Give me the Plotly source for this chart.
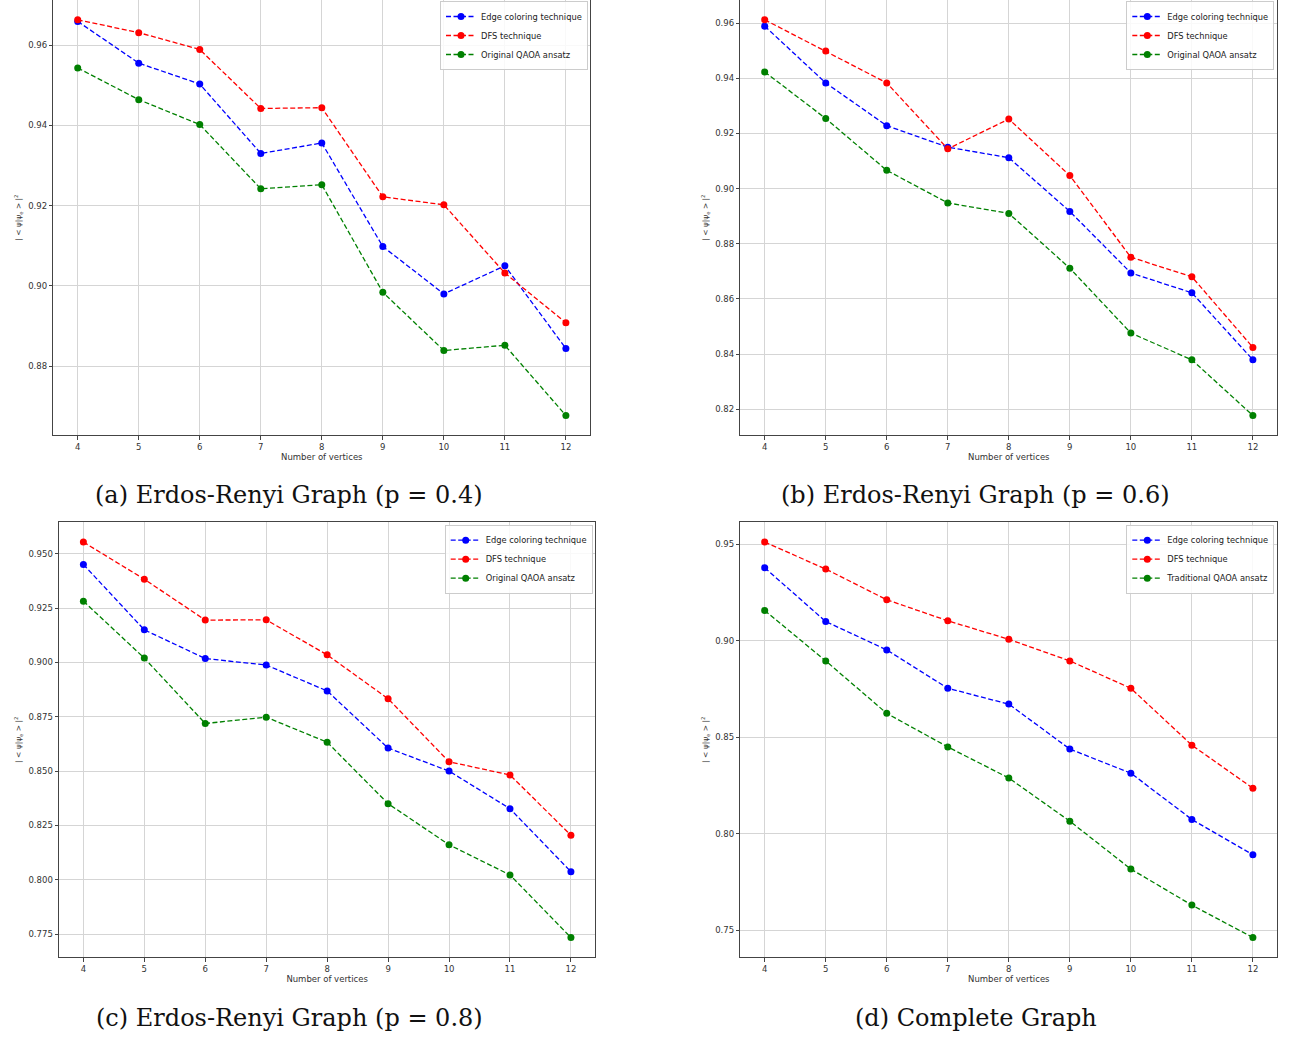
import plotly.graph_objects as go

vertices = [4, 5, 6, 7, 8, 9, 10, 11, 12]

# (a) Erdos-Renyi p = 0.4
a_edge = [0.9659, 0.9555, 0.9503, 0.9330, 0.9356, 0.9098, 0.8980, 0.9050, 0.8844]
a_dfs = [0.9663, 0.9631, 0.9589, 0.9442, 0.9444, 0.9222, 0.9202, 0.9032, 0.8908]
a_orig = [0.9543, 0.9464, 0.9402, 0.9242, 0.9252, 0.8984, 0.8839, 0.8852, 0.8677]

# (b) Erdos-Renyi p = 0.6
b_edge = [0.9589, 0.9383, 0.9228, 0.9150, 0.9112, 0.8917, 0.8694, 0.8622, 0.8379]
b_dfs = [0.9612, 0.9499, 0.9383, 0.9144, 0.9252, 0.9047, 0.8751, 0.8680, 0.8424]
b_orig = [0.9423, 0.9254, 0.9066, 0.8948, 0.8910, 0.8711, 0.8476, 0.8379, 0.8177]

# (c) Erdos-Renyi p = 0.8
c_edge = [0.9451, 0.9150, 0.9018, 0.8988, 0.8869, 0.8606, 0.8500, 0.8327, 0.8037]
c_dfs = [0.9554, 0.9383, 0.9195, 0.9196, 0.9035, 0.8833, 0.8543, 0.8482, 0.8205]
c_orig = [0.9282, 0.9020, 0.8719, 0.8748, 0.8633, 0.8350, 0.8161, 0.8022, 0.7734]

# (d) Complete graph
d_edge = [0.9379, 0.9100, 0.8953, 0.8754, 0.8672, 0.8439, 0.8314, 0.8074, 0.7891]
d_dfs = [0.9512, 0.9372, 0.9213, 0.9104, 0.9008, 0.8896, 0.8754, 0.8459, 0.8236]
d_trad = [0.9157, 0.8896, 0.8624, 0.8450, 0.8289, 0.8065, 0.7817, 0.7630, 0.7462]

series_names = ["Edge coloring technique", "DFS technique"]
captions = ["(a) Erdos-Renyi Graph (p = 0.4)", "(b) Erdos-Renyi Graph (p = 0.6)",
            "(c) Erdos-Renyi Graph (p = 0.8)", "(d) Complete Graph"]

panels = [
    (a_edge, a_dfs, a_orig, "Original QAOA ansatz", 0.02, ".2f"),
    (b_edge, b_dfs, b_orig, "Original QAOA ansatz", 0.02, ".2f"),
    (c_edge, c_dfs, c_orig, "Original QAOA ansatz", 0.025, ".3f"),
    (d_edge, d_dfs, d_trad, "Traditional QAOA ansatz", 0.05, ".2f"),
]

W, H = 1292, 1037
# axes boxes in pixels: (left, right, top, bottom)
boxes = [(53.3, 590.3, 0, 435.3), (740.3, 1277.3, 0, 435.3),
         (59.0, 595.3, 522.3, 957.3), (740.3, 1277.3, 522.3, 957.3)]
legend_pos = [(588, 1), (1274.3, 1), (592.7, 524.7), (1274.3, 524.7)]
caption_pos = [(289, 495), (976, 495), (289, 1018), (976, 1018)]

colors = ["#0000ff", "#ff0000", "#008000"]
FONT = "DejaVu Sans, sans-serif"

fig = go.Figure()
layout = dict(width=W, height=H, margin=dict(l=0, r=0, t=0, b=0),
              paper_bgcolor="white", plot_bgcolor="white", showlegend=True,
              font=dict(family=FONT, color="#333333"))
annotations = []

for i, (e, dfs, o, oname, dtick, fmt) in enumerate(panels):
    k = "" if i == 0 else str(i + 1)
    lg = "legend" + k
    names = series_names + [oname]
    for s, (vals, nm) in enumerate(zip([e, dfs, o], names)):
        fig.add_trace(go.Scatter(
            x=vertices, y=vals, name=nm, mode="lines+markers",
            line=dict(color=colors[s], width=1.3, dash="5px,2.5px"),
            marker=dict(color=colors[s], size=7),
            xaxis="x" + k, yaxis="y" + k, legend=lg))
    allv = e + dfs + o
    lo, hi = min(allv), max(allv)
    span = hi - lo
    l, r, t, b = boxes[i]
    axcommon = dict(showline=True, mirror=True, linecolor="#444444", linewidth=1,
                    showgrid=True, gridcolor="#d5d5d5", gridwidth=1.2,
                    ticks="outside", ticklen=3.5, tickcolor="#444444",
                    tickfont=dict(size=8.5, family=FONT, color="#333333"),
                    zeroline=False, automargin=False)
    layout["xaxis" + k] = dict(axcommon, domain=[l / W, r / W], range=[3.6, 12.4],
                               tickvals=vertices, anchor="y" + k,
                               title=dict(text="Number of vertices", standoff=3,
                                          font=dict(size=8.5, family=FONT, color="#333333")))
    layout["yaxis" + k] = dict(axcommon, domain=[1 - b / H, 1 - t / H],
                               range=[lo - 0.05 * span, hi + 0.05 * span],
                               dtick=dtick, tick0=0, tickformat=fmt, anchor="x" + k,
                               title=dict(text="| &lt; ψ|ψ<sub>e</sub> &gt; |<sup>2</sup>", standoff=5,
                                          font=dict(size=7.5, family=FONT, color="#333333")))
    lx, ly = legend_pos[i]
    layout[lg] = dict(x=lx / W, y=1 - ly / H, xanchor="right", yanchor="top",
                      xref="paper", yref="paper",
                      bgcolor="rgba(255,255,255,0.85)", bordercolor="#cccccc", borderwidth=1,
                      font=dict(size=8.3, family=FONT, color="#222222"),
                      itemwidth=30, tracegroupgap=0)
    cx, cy = caption_pos[i]
    annotations.append(dict(text=captions[i], x=cx / W, y=1 - cy / H, xref="paper", yref="paper",
                            xanchor="center", yanchor="middle", showarrow=False,
                            font=dict(size=24, family="DejaVu Serif, Liberation Serif, serif",
                                      color="#111111")))

layout["annotations"] = annotations
fig.update_layout(**layout)
fig.write_html("out.html", config={"displayModeBar": False},
               post_script="document.body.style.margin='0px';document.body.style.overflow='hidden';")
